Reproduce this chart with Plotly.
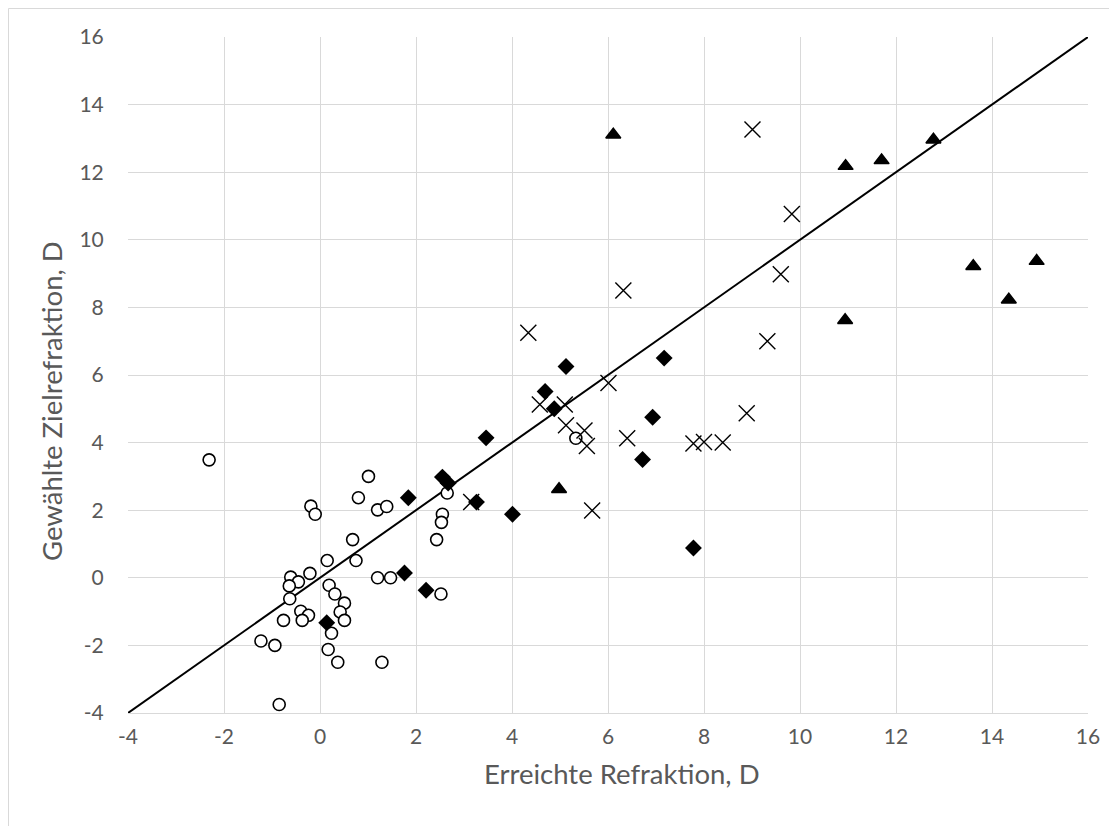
import plotly.graph_objects as go

# --- Data ---
circle_x = [-2.31, 1.01, -0.19, -0.10, 0.80, 1.20, 1.39, 2.65, 2.55, 2.53, 2.43, 0.68, 0.15, 0.75,
            -0.61, -0.21, -0.45, -0.64, 1.20, 1.47, 0.19, 0.31, 2.52, -0.63, 0.51, 0.42, 0.51,
            -0.40, -0.24, -0.37, -0.76, 0.24, -1.23, -0.94, 0.17, 0.37, 1.29, -0.85, 5.33]
circle_y = [3.49, 3.00, 2.12, 1.88, 2.37, 2.01, 2.11, 2.51, 1.88, 1.64, 1.13, 1.13, 0.51, 0.51,
            0.02, 0.13, -0.12, -0.24, 0.00, 0.00, -0.22, -0.48, -0.48, -0.62, -0.75, -1.01, -1.26,
            -0.99, -1.11, -1.26, -1.26, -1.64, -1.87, -2.00, -2.12, -2.50, -2.50, -3.75, 4.13]

diamond_x = [0.14, 1.76, 2.21, 1.84, 2.55, 2.67, 3.26, 3.46, 4.01, 4.69, 4.88, 5.125, 7.17, 6.93, 6.72, 7.78]
diamond_y = [-1.33, 0.14, -0.37, 2.37, 2.98, 2.80, 2.24, 4.14, 1.88, 5.51, 5.00, 6.25, 6.50, 4.75, 3.50, 0.88]

cross_x = [3.15, 4.34, 6.32, 4.58, 5.10, 6.01, 5.125, 5.51, 5.56, 6.40, 7.78, 8.00, 8.39, 5.67, 8.89, 9.32, 9.60, 9.83, 9.01]
cross_y = [2.24, 7.25, 8.50, 5.13, 5.13, 5.76, 4.51, 4.36, 3.90, 4.13, 3.97, 4.02, 4.00, 1.99, 4.87, 7.00, 8.98, 10.76, 13.26]

tri_x = [4.98, 6.11, 10.95, 11.70, 12.78, 10.94, 13.61, 14.35, 14.93]
tri_y = [2.62, 13.11, 12.18, 12.35, 12.96, 7.62, 9.22, 8.23, 9.37]

line_x = [-4, 16]
line_y = [-4, 16]

x_ticks = [-4, -2, 0, 2, 4, 6, 8, 10, 12, 14, 16]
y_ticks = [-4, -2, 0, 2, 4, 6, 8, 10, 12, 14, 16]

x_title = "Erreichte Refraktion, D"
y_title = "Gewählte Zielrefraktion, D"

FONT = "Lato"
FS_TICK = 21
FS_TITLE = 27.5
GRAY = "#595959"
GRID = "#d9d9d9"

fig = go.Figure()

fig.add_trace(go.Scatter(x=line_x, y=line_y, mode="lines",
                         line=dict(color="black", width=2), showlegend=False, hoverinfo="skip"))
fig.add_trace(go.Scatter(x=circle_x, y=circle_y, mode="markers",
                         marker=dict(symbol="circle", size=12, color="white",
                                     line=dict(color="black", width=1.6)), showlegend=False))
fig.add_trace(go.Scatter(x=cross_x, y=cross_y, mode="markers",
                         marker=dict(symbol="x-thin-open", size=16, color="black",
                                     line=dict(color="black", width=1.4)), showlegend=False))
fig.add_trace(go.Scatter(x=diamond_x, y=diamond_y, mode="markers",
                         marker=dict(symbol="diamond", size=13, color="black",
                                     line=dict(color="black", width=0)), showlegend=False))
fig.add_trace(go.Scatter(x=tri_x, y=tri_y, mode="markers",
                         marker=dict(symbol="triangle-up", size=13, color="black",
                                     line=dict(color="black", width=1.5)), showlegend=False))

# the page body has an 8px margin, so figure coords = page coords - 8
OFF = 8
W, H = 1117 - OFF, 826 - OFF
L, R, T, B = 128 - OFF, 1088 - OFF, 37 - OFF, 713 - OFF
pw, ph = R - L, B - T

def px2paper_x(px):
    return (px - OFF - L) / pw

def px2paper_y(py):
    return (B - (py - OFF)) / ph

fig.update_layout(
    width=W, height=H,
    margin=dict(l=L, r=W - R, t=T, b=H - B, pad=0),
    paper_bgcolor="white", plot_bgcolor="white",
    font=dict(family=FONT, color=GRAY, size=FS_TICK),
    xaxis=dict(range=[-4, 16], tickvals=x_ticks, ticktext=[str(v) for v in x_ticks],
               showgrid=True, gridcolor=GRID, gridwidth=1, zeroline=False,
               showline=True, linecolor=GRID, linewidth=1,
               ticks="outside", ticklen=5, tickcolor="rgba(0,0,0,0)",
               tickfont=dict(family=FONT, size=FS_TICK, color=GRAY)),
    yaxis=dict(range=[-4, 16], tickvals=y_ticks, ticktext=[str(v) for v in y_ticks],
               showgrid=True, gridcolor=GRID, gridwidth=1, zeroline=False,
               showline=False,
               ticks="outside", ticklen=19, tickcolor="rgba(0,0,0,0)",
               tickfont=dict(family=FONT, size=FS_TICK, color=GRAY)),
    annotations=[
        dict(text=x_title, xref="paper", yref="paper", x=px2paper_x(622), y=px2paper_y(773),
             xanchor="center", yanchor="middle", showarrow=False,
             font=dict(family=FONT, size=FS_TITLE, color=GRAY)),
        dict(text=y_title, xref="paper", yref="paper", x=px2paper_x(51), y=px2paper_y(401),
             xanchor="center", yanchor="middle", showarrow=False, textangle=-90,
             font=dict(family=FONT, size=FS_TITLE, color=GRAY)),
    ],
    shapes=[
        dict(type="rect", xref="paper", yref="paper",
             x0=px2paper_x(8.5), x1=px2paper_x(1109.5), y0=px2paper_y(840), y1=px2paper_y(8.5),
             line=dict(color=GRID, width=1), fillcolor="rgba(0,0,0,0)", layer="below"),
    ],
)

fig.write_html("out.html")
